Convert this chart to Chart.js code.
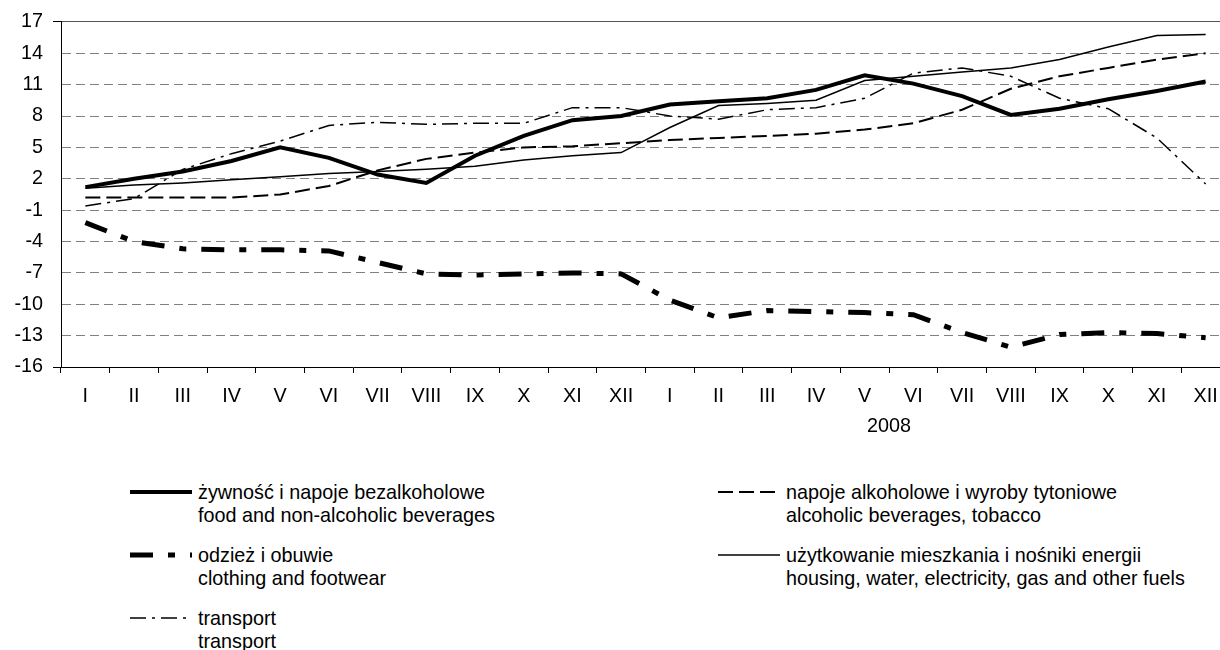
<!DOCTYPE html>
<html>
<head>
<meta charset="utf-8">
<script src="https://cdn.jsdelivr.net/npm/chart.js@4.4.0/dist/chart.umd.min.js"></script>
<style>
body{margin:0;width:1220px;height:650px;overflow:hidden;background:#fff;font-family:"Liberation Sans",Arial,sans-serif;}
#wrap{position:absolute;left:0;top:0;width:1240px;height:450px;}
.leg{position:absolute;font-size:19.8px;line-height:22.5px;color:#000;white-space:nowrap;}
.leg svg{position:absolute;overflow:visible;}
</style>
</head>
<body>
<div id="wrap"><canvas id="myChart" width="1240" height="450"></canvas></div>
<div id="legend"></div>
<script>
const months = ['I','II','III','IV','V','VI','VII','VIII','IX','X','XI','XII',
                'I','II','III','IV','V','VI','VII','VIII','IX','X','XI','XII'];
const yearLabel = '2008';

// values (2007 I .. 2008 XII)
const food      = [1.2, 2.0, 2.7, 3.7, 5.0, 4.0, 2.4, 1.6, 4.2, 6.1, 7.6, 8.0, 9.1, 9.4, 9.7, 10.5, 11.9, 11.1, 9.9, 8.1, 8.7, 9.6, 10.4, 11.3];
const alcohol   = [0.2, 0.2, 0.2, 0.2, 0.5, 1.3, 2.8, 3.9, 4.5, 5.0, 5.1, 5.4, 5.7, 5.9, 6.1, 6.3, 6.7, 7.3, 8.6, 10.6, 11.8, 12.6, 13.4, 14.0];
const clothing  = [-2.2, -4.0, -4.7, -4.8, -4.8, -4.9, -6.0, -7.1, -7.2, -7.1, -7.0, -7.1, -9.6, -11.3, -10.6, -10.7, -10.8, -11.0, -12.7, -14.1, -12.9, -12.7, -12.8, -13.2];
const housing   = [1.1, 1.4, 1.6, 1.9, 2.2, 2.5, 2.7, 2.9, 3.2, 3.8, 4.2, 4.5, 6.9, 9.0, 9.2, 9.5, 11.4, 11.8, 12.2, 12.6, 13.4, 14.6, 15.7, 15.8];
const transport = [-0.6, 0.1, 2.9, 4.4, 5.6, 7.1, 7.4, 7.2, 7.3, 7.3, 8.8, 8.8, 8.0, 7.7, 8.6, 8.8, 9.7, 12.1, 12.6, 11.8, 9.7, 8.7, 5.9, 1.5];

const seriesNames = [
    ['żywność i napoje bezalkoholowe', 'food and non-alcoholic beverages'],
    ['napoje alkoholowe i wyroby tytoniowe', 'alcoholic beverages, tobacco'],
    ['odzież i obuwie', 'clothing and footwear'],
    ['użytkowanie mieszkania i nośniki energii', 'housing, water, electricity, gas and other fuels'],
    ['transport', 'transport']
];

const fontFam = '"Liberation Sans", Arial, sans-serif';
Chart.defaults.font.family = fontFam;
Chart.defaults.font.size = 19.8;
Chart.defaults.color = '#000';

// "2008" under the second year
const yearPlugin = {
    id: 'yearPlugin',
    afterDraw(chart) {
        let x = chart.scales.x;
        let c = chart.ctx;
        c.save();
        c.font = '19.8px ' + fontFam;
        c.fillStyle = '#000';
        c.textAlign = 'center';
        c.textBaseline = 'middle';
        c.fillText(yearLabel, x.getPixelForValue(16.5), x.top + 60);
        c.restore();
    }
};

function ds(label, data, width, dash) {
    return {
        label: label,
        data: data,
        borderColor: '#000',
        backgroundColor: '#000',
        borderWidth: width,
        borderDash: dash,
        borderCapStyle: 'butt',
        pointRadius: 0,
        tension: 0,
        fill: false
    };
}

let ctx = document.getElementById('myChart');
let myChart = new Chart(ctx, {
    type: 'line',
    data: {
        labels: months,
        datasets: [
            ds(seriesNames[0][0], food, 4, []),
            ds(seriesNames[1][0], alcohol, 2, [15, 6]),
            ds(seriesNames[2][0], clothing, 5, [23, 15, 7, 15]),
            ds(seriesNames[3][0], housing, 1.5, []),
            ds(seriesNames[4][0], transport, 1.5, [16, 6, 3, 6])
        ]
    },
    options: {
        responsive: false,
        animation: false,
        layout: { padding: { left: 0, right: 10, top: 20, bottom: 0 } },
        plugins: { legend: { display: false }, tooltip: { enabled: false } },
        scales: {
            x: {
                offset: true,
                grid: { offset: true, drawOnChartArea: false, tickLength: 6, tickColor: '#000' },
                border: { color: '#000', width: 1 },
                ticks: { padding: 12, maxRotation: 0, autoSkip: false },
                afterFit(s) { s.height = 83; }
            },
            y: {
                min: -16,
                max: 17,
                ticks: { stepSize: 3, padding: 10 },
                grid: {
                    color: c => (c.tick && c.tick.value === 17) ? '#555' : '#808080',
                    tickLength: 8,
                    tickColor: c => (c.tick && (c.tick.value === 17 || c.tick.value === -16)) ? '#000' : 'rgba(0,0,0,0)'
                },
                border: {
                    color: '#000',
                    width: 1,
                    dash: c => (c.tick && c.tick.value !== 17) ? [9, 5] : []
                },
                afterFit(s) { s.width = 61; }
            }
        }
    },
    plugins: [yearPlugin]
});

// legend in two columns
const legendItems = [
    { name: seriesNames[0], x: 198, y: 481, w: 4, dash: '' },
    { name: seriesNames[2], x: 198, y: 544, w: 5, dash: '23 15 7 15' },
    { name: seriesNames[4], x: 198, y: 607, w: 1.5, dash: '16 6 3 6' },
    { name: seriesNames[1], x: 786, y: 481, w: 2, dash: '15 6' },
    { name: seriesNames[3], x: 786, y: 544, w: 1.5, dash: '' }
];
let leg = document.getElementById('legend');
legendItems.forEach(function (it) {
    let d = document.createElement('div');
    d.className = 'leg';
    d.style.left = it.x + 'px';
    d.style.top = it.y + 'px';
    d.innerHTML = '<svg width="64" height="10" style="left:-69px;top:6px">' +
        '<line x1="1" y1="5" x2="63" y2="5" stroke="#000" stroke-width="' + it.w + '"' +
        (it.dash ? ' stroke-dasharray="' + it.dash + '"' : '') + '/></svg>' +
        it.name[0] + '<br>' + it.name[1];
    leg.appendChild(d);
});
</script>
</body>
</html>
